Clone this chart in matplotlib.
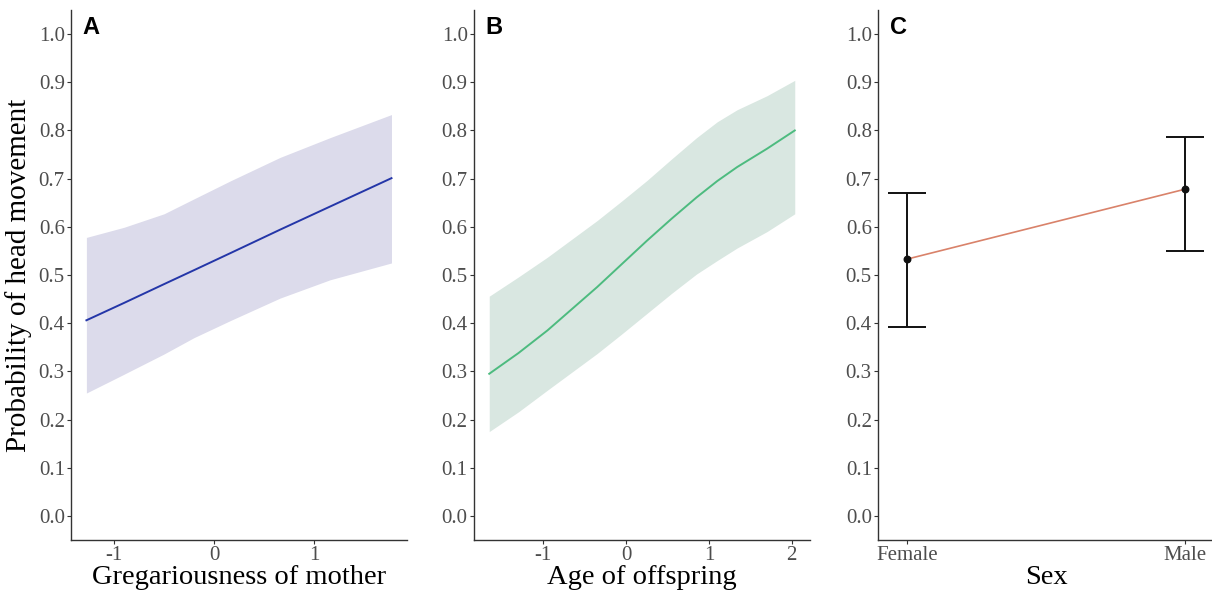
import matplotlib
matplotlib.use("Agg")
import matplotlib.pyplot as plt

# Panel A: gregariousness of mother
greg_x = [-1.276, -0.90, -0.50, -0.20, 0.17, 0.66, 1.16, 1.775]
greg_fit = [0.406, 0.442, 0.481, 0.510, 0.546, 0.594, 0.642, 0.701]
greg_upper = [0.578, 0.599, 0.627, 0.658, 0.696, 0.744, 0.785, 0.833]
greg_lower = [0.255, 0.294, 0.336, 0.370, 0.406, 0.452, 0.490, 0.525]

# Panel B: age of offspring
age_x = [-1.653, -1.30, -0.95, -0.65, -0.35, -0.05, 0.25, 0.55, 0.85, 1.10, 1.34, 1.70, 2.036]
age_fit = [0.295, 0.338, 0.385, 0.430, 0.475, 0.523, 0.571, 0.617, 0.661, 0.695, 0.724, 0.762, 0.800]
age_upper = [0.456, 0.496, 0.537, 0.575, 0.613, 0.654, 0.696, 0.741, 0.785, 0.818, 0.843, 0.872, 0.904]
age_lower = [0.175, 0.216, 0.261, 0.299, 0.337, 0.378, 0.420, 0.462, 0.502, 0.530, 0.556, 0.590, 0.627]

# Panel C: sex
sex_labels = ["Female", "Male"]
sex_fit = [0.533, 0.678]
sex_lower = [0.392, 0.549]
sex_upper = [0.671, 0.786]

yticks = [0.0, 0.1, 0.2, 0.3, 0.4, 0.5, 0.6, 0.7, 0.8, 0.9, 1.0]

fig = plt.figure(figsize=(12.12, 5.92), dpi=100)
W, H = 1212, 592

def make_ax(left_px, right_px):
    return fig.add_axes([left_px / W, (H - 540) / H, (right_px - left_px) / W, 530 / H])

axA = make_ax(71, 407)
axB = make_ax(474, 810)
axC = make_ax(878, 1214)

serif = "Liberation Serif"
tick_col = "#4D4D4D"

def style(ax):
    for s in ["top", "right"]:
        ax.spines[s].set_visible(False)
    for s in ["left", "bottom"]:
        ax.spines[s].set_color("#333333")
        ax.spines[s].set_linewidth(1.0)
    ax.set_ylim(-0.05, 1.05)
    ax.set_yticks(yticks)
    ax.set_yticklabels([f"{v:.1f}" for v in yticks])
    ax.tick_params(axis="both", length=3, width=0.8, color="#333333",
                   labelsize=15, labelcolor=tick_col, pad=1.5)
    for lab in ax.get_xticklabels() + ax.get_yticklabels():
        lab.set_fontfamily(serif)

# A
axA.fill_between(greg_x, greg_lower, greg_upper, color="#DCDBEB", linewidth=0)
axA.plot(greg_x, greg_fit, color="#2436A8", linewidth=1.4)
axA.set_xlim(-1.43, 1.93)
axA.set_xticks([-1, 0, 1])
axA.set_xticklabels(["-1", "0", "1"])
style(axA)
axA.set_xlabel("Gregariousness of mother", fontfamily=serif, fontsize=20.5, labelpad=0)
axA.set_ylabel("Probability of head movement", fontfamily=serif, fontsize=21, labelpad=5)

# B
axB.fill_between(age_x, age_lower, age_upper, color="#D9E7E1", linewidth=0)
axB.plot(age_x, age_fit, color="#4DBB7F", linewidth=1.4)
axB.set_xlim(-1.837, 2.22)
axB.set_xticks([-1, 0, 1, 2])
axB.set_xticklabels(["-1", "0", "1", "2"])
style(axB)
axB.set_xlabel("Age of offspring", fontfamily=serif, fontsize=20.5, labelpad=0)

# C
xs = [1, 2]
axC.plot(xs, sex_fit, color="#D9826A", linewidth=1.2, zorder=2)
axC.errorbar(xs, sex_fit,
             yerr=[[f - l for f, l in zip(sex_fit, sex_lower)],
                   [u - f for f, u in zip(sex_fit, sex_upper)]],
             fmt="none", ecolor="#111111", elinewidth=1.4, capsize=13.5, capthick=1.4, zorder=3)
axC.scatter(xs, sex_fit, color="#111111", s=22, zorder=4)
axC.set_xlim(0.895, 2.105)
axC.set_xticks(xs)
axC.set_xticklabels(sex_labels)
style(axC)
axC.set_xlabel("Sex", fontfamily=serif, fontsize=20.5, labelpad=0)

for ax, letter in [(axA, "A"), (axB, "B"), (axC, "C")]:
    ax.text(0.035, 0.988, letter, transform=ax.transAxes, fontfamily="Liberation Sans",
            fontweight="bold", fontsize=17, va="top", ha="left")

fig.savefig("out.png", dpi=100)
